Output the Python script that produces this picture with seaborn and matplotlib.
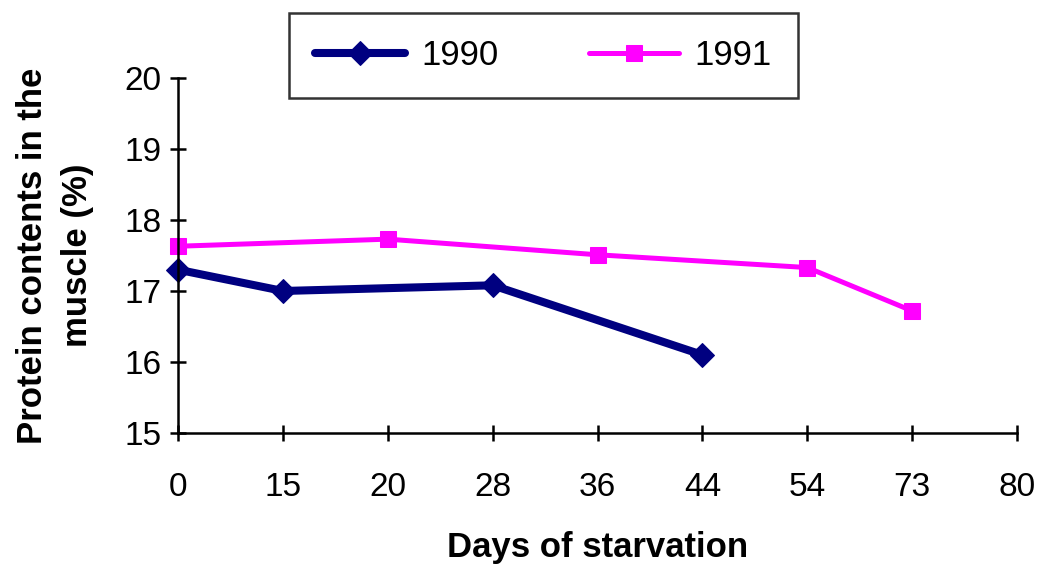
import pandas as pd
import matplotlib.pyplot as plt
import seaborn as sns

# Tick categories on the x axis (evenly spaced, not to scale)
day_labels = ['0', '15', '20', '28', '36', '44', '54', '73', '80']

# Protein content
days_1990 = ['0', '15', '28', '44']
protein_1990 = [17.3, 17.0, 17.08, 16.1]

days_1991 = ['0', '20', '36', '54', '73']
protein_1991 = [17.63, 17.73, 17.51, 17.33, 16.72]

# Map day labels to category positions
pos = {d: i for i, d in enumerate(day_labels)}
df_1990 = pd.DataFrame({'x': [pos[d] for d in days_1990], 'Protein': protein_1990})
df_1991 = pd.DataFrame({'x': [pos[d] for d in days_1991], 'Protein': protein_1991})

sns.set_style('white')
plt.rcParams['font.family'] = ['Liberation Sans', 'DejaVu Sans']
plt.rcParams['text.color'] = 'black'
plt.rcParams['axes.labelcolor'] = 'black'
plt.rcParams['xtick.color'] = 'black'
plt.rcParams['ytick.color'] = 'black'

fig = plt.figure(figsize=(10.37, 5.69), dpi=100)
ax = fig.add_axes([0.1717, 0.239, 0.809, 0.624])

sns.lineplot(data=df_1990, x='x', y='Protein', ax=ax, color='#000080', linewidth=5.8,
             marker='D', markersize=12, markeredgecolor='#000080', label='1990', clip_on=False)
sns.lineplot(data=df_1991, x='x', y='Protein', ax=ax, color='#FF00FF', linewidth=3.6,
             marker='s', markersize=12, markeredgecolor='#FF00FF', label='1991', clip_on=False)

ax.set_xlim(0, len(day_labels) - 1)
ax.set_ylim(15, 20)
ax.set_xticks(range(len(day_labels)))
ax.set_xticklabels(day_labels)
ax.set_yticks([15, 16, 17, 18, 19, 20])

ax.tick_params(axis='both', direction='inout', length=12, width=1.8, labelsize=24,
               bottom=True, left=True, color='black', labelcolor='black')
ax.tick_params(axis='x', pad=22)
ax.tick_params(axis='y', pad=6)

for side in ['top', 'right']:
    ax.spines[side].set_visible(False)
for side in ['left', 'bottom']:
    ax.spines[side].set_color('black')
    ax.spines[side].set_linewidth(1.8)

ax.set_xlabel('Days of starvation', fontsize=25, fontweight='bold', labelpad=20)
ax.set_ylabel('Protein contents in the\nmuscle (%)', fontsize=25, fontweight='bold',
              labelpad=22, linespacing=1.45)

leg = ax.legend(loc='center', bbox_to_anchor=(0.4356, 1.064), ncol=2, fontsize=25,
                frameon=True, fancybox=False, edgecolor='black', handlelength=2.6,
                columnspacing=2.6, borderpad=0.75, handletextpad=0.45)
leg.get_frame().set_linewidth(1.8)

plt.savefig('out.png', dpi=100)
